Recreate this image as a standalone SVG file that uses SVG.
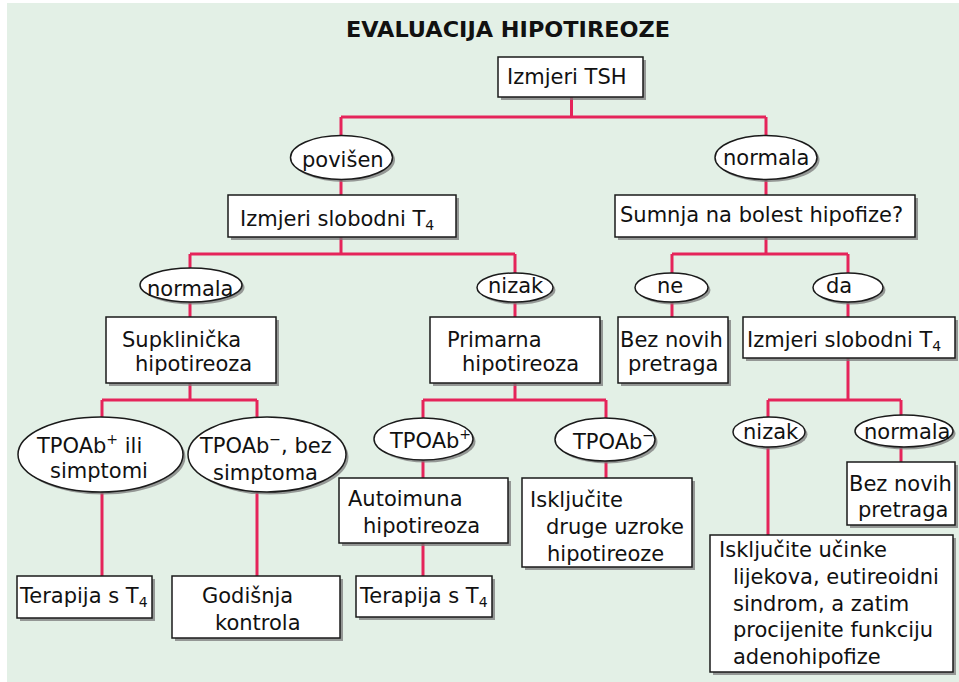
<svg xmlns="http://www.w3.org/2000/svg" width="959" height="682" viewBox="0 0 959 682">
<defs>
<style>
.bg{fill:#e3f0e6}
.box{fill:#ffffff;stroke:#1a1a1a;stroke-width:1.5}
.sh{fill:#7a7a7a;opacity:0.75}
.con{fill:none;stroke:#e5245a;stroke-width:3}
text{font-family:"DejaVu Sans","Verdana",sans-serif;font-size:21px;fill:#111}
.title{font-weight:bold;font-size:21px}
.sub{font-size:14px}
</style>
</defs>
<rect x="0" y="0" width="959" height="682" fill="#ffffff"/>
<rect class="bg" x="7" y="3" width="952" height="679"/>
<text class="title" x="346" y="37" textLength="324" lengthAdjust="spacingAndGlyphs">EVALUACIJA HIPOTIREOZE</text>
<g id="connectors">
<path class="con" d="M571.5,97 V117 M341,117 H766 M341,117 V254 M190,254 H515 M190,254 V400 M515,254 V400 M766,117 V254 M672,254 H848 M672,254 V317 M848,254 V400 M102,400 H257 M102,400 V576 M257,400 V576 M423,400 H606 M423,400 V576 M606,400 V478 M768,400 H901 M768,400 V535 M901,400 V462"/>
</g>
<g id="n-tsh"><rect class="sh" x="501" y="60" width="145" height="40"/><rect class="box" x="498" y="57" width="145" height="40"/><text x="507" y="84">Izmjeri TSH</text></g>
<g id="n-povisen"><ellipse class="sh" cx="344" cy="160" rx="51" ry="22"/><ellipse class="box" cx="341.5" cy="157.5" rx="51" ry="22"/><text x="302" y="167">povišen</text></g>
<g id="n-normala-top"><ellipse class="sh" cx="768.5" cy="160" rx="51" ry="22"/><ellipse class="box" cx="766" cy="157.5" rx="51" ry="22"/><text x="723" y="165">normala</text></g>
<g id="n-ft4-left"><rect class="sh" x="231" y="198" width="228" height="42"/><rect class="box" x="228" y="195" width="228" height="42"/><text x="240" y="226">Izmjeri slobodni T<tspan class="sub" dy="4">4</tspan></text></g>
<g id="n-sumnja"><rect class="sh" x="618" y="198" width="300" height="42"/><rect class="box" x="615" y="195" width="300" height="42"/><text x="620" y="222">Sumnja na bolest hipofize?</text></g>
<g id="n-normala-l"><ellipse class="sh" cx="193.5" cy="287.5" rx="51" ry="17"/><ellipse class="box" cx="191" cy="285" rx="51" ry="17"/><text x="147" y="296">normala</text></g>
<g id="n-nizak-top"><ellipse class="sh" cx="517.5" cy="290" rx="38" ry="14.5"/><ellipse class="box" cx="515" cy="287.5" rx="38" ry="14.5"/><text x="488" y="293">nizak</text></g>
<g id="n-ne"><ellipse class="sh" cx="674" cy="290" rx="36.5" ry="14.5"/><ellipse class="box" cx="671.5" cy="287.5" rx="36.5" ry="14.5"/><text x="657" y="293">ne</text></g>
<g id="n-da"><ellipse class="sh" cx="850.5" cy="290" rx="35" ry="14.5"/><ellipse class="box" cx="848" cy="287.5" rx="35" ry="14.5"/><text x="826" y="293">da</text></g>
<g id="n-supklin"><rect class="sh" x="109" y="320" width="170" height="66"/><rect class="box" x="106" y="317" width="170" height="66"/><text x="122" y="347">Supklinička</text><text x="135" y="371">hipotireoza</text></g>
<g id="n-primarna"><rect class="sh" x="433" y="320" width="170" height="66"/><rect class="box" x="430" y="317" width="170" height="66"/><text x="447" y="347">Primarna</text><text x="462" y="371">hipotireoza</text></g>
<g id="n-beznovih-l"><rect class="sh" x="621" y="320" width="110" height="66"/><rect class="box" x="618" y="317" width="110" height="66"/><text x="620" y="347">Bez novih</text><text x="628" y="371">pretraga</text></g>
<g id="n-ft4-right"><rect class="sh" x="746" y="320" width="212" height="41"/><rect class="box" x="743" y="317" width="212" height="41"/><text x="747" y="347">Izmjeri slobodni T<tspan class="sub" dy="4">4</tspan></text></g>
<g id="n-tpo-ili"><ellipse class="sh" cx="103" cy="457" rx="82.5" ry="37.5"/><ellipse class="box" cx="100.5" cy="454.5" rx="82.5" ry="37.5"/><text x="37" y="453">TPOAb<tspan class="sub" dy="-9">+</tspan><tspan dy="9"> ili</tspan></text><text x="50" y="478">simptomi</text></g>
<g id="n-tpo-bez"><ellipse class="sh" cx="269.5" cy="457" rx="79" ry="37.5"/><ellipse class="box" cx="267" cy="454.5" rx="79" ry="37.5"/><text x="200" y="453">TPOAb<tspan class="sub" dy="-9">−</tspan><tspan dy="9">, bez</tspan></text><text x="213" y="480">simptoma</text></g>
<g id="n-tpo-plus"><ellipse class="sh" cx="426" cy="441.5" rx="49.5" ry="21"/><ellipse class="box" cx="423.5" cy="439" rx="49.5" ry="21"/><text x="390" y="448">TPOAb<tspan class="sub" dy="-9">+</tspan></text></g>
<g id="n-tpo-minus"><ellipse class="sh" cx="607.5" cy="442" rx="50" ry="21.5"/><ellipse class="box" cx="605" cy="439.5" rx="50" ry="21.5"/><text x="573" y="449">TPOAb<tspan class="sub" dy="-9">−</tspan></text></g>
<g id="n-nizak-r"><ellipse class="sh" cx="771.5" cy="434.5" rx="36" ry="15"/><ellipse class="box" cx="769" cy="432" rx="36" ry="15"/><text x="743" y="439">nizak</text></g>
<g id="n-normala-r"><ellipse class="sh" cx="906.5" cy="433.5" rx="49" ry="16"/><ellipse class="box" cx="904" cy="431" rx="49" ry="16"/><text x="864" y="439">normala</text></g>
<g id="n-autoimuna"><rect class="sh" x="342" y="481" width="169" height="65"/><rect class="box" x="339" y="478" width="169" height="65"/><text x="348" y="506">Autoimuna</text><text x="363" y="533">hipotireoza</text></g>
<g id="n-iskljucite"><rect class="sh" x="525" y="481" width="170" height="89"/><rect class="box" x="522" y="478" width="170" height="89"/><text x="530" y="507">Isključite</text><text x="546" y="534">druge uzroke</text><text x="547" y="561">hipotireoze</text></g>
<g id="n-beznovih-r"><rect class="sh" x="850" y="465" width="108" height="63"/><rect class="box" x="847" y="462" width="108" height="63"/><text x="849" y="491">Bez novih</text><text x="858" y="517">pretraga</text></g>
<g id="n-terapija-l"><rect class="sh" x="20" y="579" width="135" height="42"/><rect class="box" x="17" y="576" width="135" height="42"/><text x="20" y="603">Terapija s T<tspan class="sub" dy="4">4</tspan></text></g>
<g id="n-godisnja"><rect class="sh" x="175" y="579" width="168" height="62"/><rect class="box" x="172" y="576" width="168" height="62"/><text x="202" y="603">Godišnja</text><text x="215" y="630">kontrola</text></g>
<g id="n-terapija-m"><rect class="sh" x="359" y="579" width="136" height="41"/><rect class="box" x="356" y="576" width="136" height="41"/><text x="360" y="603">Terapija s T<tspan class="sub" dy="4">4</tspan></text></g>
<g id="n-big"><rect class="sh" x="713" y="538" width="243" height="137"/><rect class="box" x="710" y="535" width="243" height="137"/><text x="719" y="557">Isključite učinke</text><text x="733" y="584">lijekova, eutireoidni</text><text x="733" y="611">sindrom, a zatim</text><text x="733" y="637">procijenite funkciju</text><text x="733" y="664">adenohipofize</text></g>
</svg>
